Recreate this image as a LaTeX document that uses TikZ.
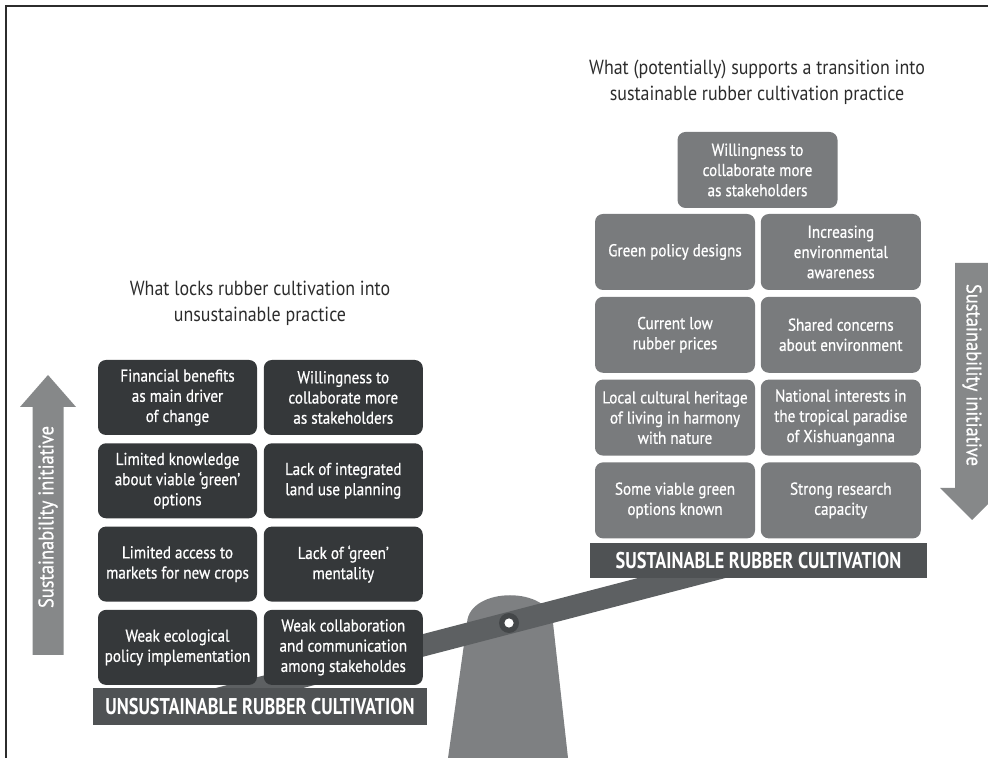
\documentclass[tikz,border=0pt]{standalone}
\usepackage{fontspec}
\setsansfont{PT Sans}[FakeStretch=0.88]
\newfontfamily\boxfont{PT Sans}[Ligatures=TeX,FakeStretch=0.88,FakeBold=0.7]
\newfontfamily\bannerfont{PT Sans}[Ligatures=TeX,FakeStretch=0.8]
\usetikzlibrary{positioning}

\definecolor{lockgray}{HTML}{35383A}
\definecolor{supportgray}{HTML}{797B7D}
\definecolor{bannergray}{HTML}{4F5254}
\definecolor{arrowgray}{HTML}{868889}
\definecolor{standgray}{HTML}{7E8082}
\definecolor{beamgray}{HTML}{5D6062}
\definecolor{pivotgray}{HTML}{444749}
\definecolor{titlegray}{HTML}{2C2C2C}

\begin{document}
\begin{tikzpicture}[x=0.5pt,y=0.5pt,font=\sffamily,
  lockbox/.style={rectangle, rounded corners=4pt, fill=lockgray, text=white, align=center,
    minimum width=79.5pt, minimum height=37.5pt, inner sep=1pt, font=\boxfont\fontsize{8.6}{10.1}\selectfont},
  supportbox/.style={lockbox, fill=supportgray, minimum width=80pt, minimum height=38pt},
  banner/.style={rectangle, fill=bannergray, text=white, inner sep=0pt, font=\bannerfont\bfseries\fontsize{11.4}{13}\selectfont},
  heading/.style={align=center, text=titlegray, font=\sffamily\fontsize{10.2}{13}\selectfont},
  sidetext/.style={text=white, font=\boxfont\fontsize{10.5}{12}\selectfont}]
\useasboundingbox (0,0) rectangle (988,758);
\clip (0,0) rectangle (988,758);

% frame
\draw[line width=1.3pt, titlegray] (6,0) -- (6,752) -- (988,752);

% seesaw
\coordinate (pivot) at (509,135);
\fill[standgray] (448,0) -- (467,135) .. controls (469,172) and (551,172) .. (553,135) -- (568,0) -- cycle;
\draw[line width=11pt, beamgray] (pivot) ++(194.6:320) -- ++(14.6:570);

% left side: what locks
\node[heading] (locktitle) at (260,455) {What locks rubber cultivation into\\unsustainable practice};
\node[lockbox] (finance) at (177.5,360.5) {Financial benefits\\as main driver\\of change};
\node[lockbox, right=3pt of finance] (willing) {Willingness to\\collaborate more\\as stakeholders};
\node[lockbox, below=3.75pt of finance] (knowledge) {Limited knowledge\\about viable `green'\\options};
\node[lockbox, below=3.75pt of willing] (landuse) {Lack of integrated\\land use planning};
\node[lockbox, below=3.75pt of knowledge] (markets) {Limited access to\\markets for new crops};
\node[lockbox, below=3.75pt of landuse] (mentality) {Lack of `green'\\mentality};
\node[lockbox, below=3.75pt of markets] (policy) {Weak ecological\\policy implementation};
\node[lockbox, below=3.75pt of mentality] (collab) {Weak collaboration\\and communication\\among stakeholdes};
\node[banner, minimum width=167pt, minimum height=18.5pt] (unsust) at (260,51.5) {UNSUSTAINABLE RUBBER CULTIVATION};

% right side: what supports
\node[heading] (supporttitle) at (757,676) {What (potentially) supports a transition into\\sustainable rubber cultivation practice};
\node[supportbox] (willtop) at (757.5,588) {Willingness to\\collaborate more\\as stakeholders};
\node[supportbox] (green) at (675,506) {Green policy designs};
\node[supportbox, right=2.5pt of green] (aware) {Increasing\\environmental\\awareness};
\node[supportbox, below=3pt of green] (prices) {Current low\\rubber prices};
\node[supportbox, below=3pt of aware] (concerns) {Shared concerns\\about environment};
\node[supportbox, below=3pt of prices] (heritage) {Local cultural heritage\\of living in harmony\\with nature};
\node[supportbox, below=3pt of concerns] (national) {National interests in\\the tropical paradise\\of Xishuanganna};
\node[supportbox, below=3pt of heritage] (options) {Some viable green\\options known};
\node[supportbox, below=3pt of national] (research) {Strong research\\capacity};
\node[banner, minimum width=168.5pt, minimum height=17.5pt] (sust) at (758.5,197.5) {SUSTAINABLE RUBBER CULTIVATION};

\fill[pivotgray] (pivot) circle (5pt);
\fill[white] (pivot) circle (2.3pt);

% sustainability arrows
\fill[arrowgray] (32.5,103) -- (32.5,351) -- (20,351) -- (48,383) -- (76,351) -- (63.5,351) -- (63.5,103) -- cycle;
\node[sidetext, rotate=90] (upinit) at (48,241) {Sustainability initiative};
\fill[arrowgray] (955,495) -- (955,270) -- (940,270) -- (972,238) -- (1004,270) -- (989,270) -- (989,495) -- cycle;
\node[sidetext, rotate=-90] (downinit) at (972,383) {Sustainability initiative};
\end{tikzpicture}
\end{document}
